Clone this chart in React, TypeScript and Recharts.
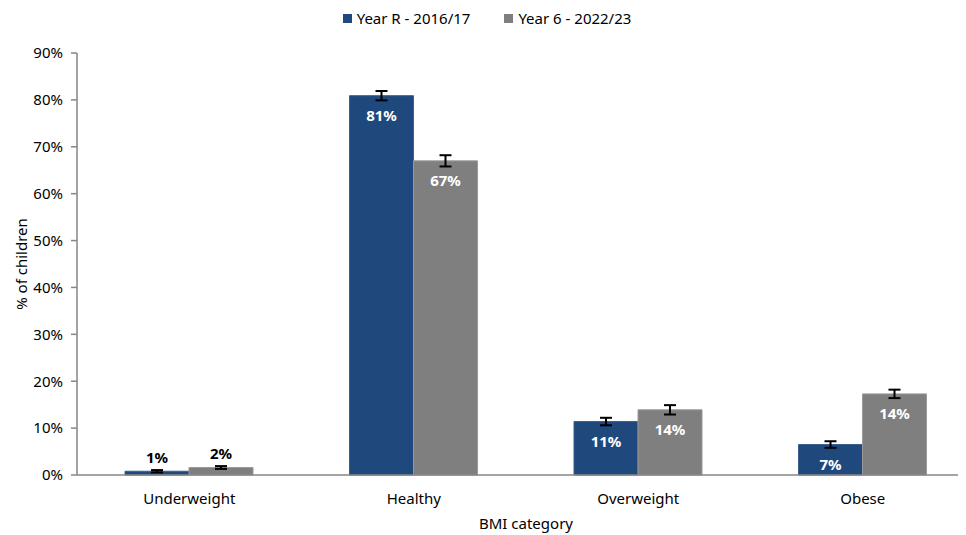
import { BarChart, Bar, XAxis, YAxis, ErrorBar, LabelList } from 'recharts';

const categories = ['Underweight', 'Healthy', 'Overweight', 'Obese'];
const yearR = [0.8, 80.9, 11.4, 6.5];
const yearRErr = [0.25, 1.0, 0.8, 0.7];
const yearRLabels = ['1%', '81%', '11%', '7%'];
const year6 = [1.6, 67.0, 13.9, 17.3];
const year6Err = [0.3, 1.2, 1.0, 0.9];
const year6Labels = ['2%', '67%', '14%', '14%'];
const yTicks = [0, 10, 20, 30, 40, 50, 60, 70, 80, 90];
const series = [
  { name: 'Year R - 2016/17', color: '#1F497D' },
  { name: 'Year 6 - 2022/23', color: '#7F7F7F' },
];

const data = categories.map((name, i) => ({
  name,
  idx: i + 0.5,
  r: yearR[i],
  rErr: yearRErr[i],
  s: year6[i],
  sErr: year6Err[i],
}));

const FONT = '"Noto Sans", sans-serif';

const makeLabel = (labels: string[]) => (p: any) => {
  const { x, y, width, index } = p;
  const small = index === 0;
  return (
    <text
      x={x + width / 2}
      y={small ? y - 8 : y + 25}
      textAnchor="middle"
      fontFamily={FONT}
      fontSize={15}
      fontWeight="bold"
      fill={small ? '#000' : '#fff'}
    >
      {labels[index]}
    </text>
  );
};

export default function App() {
  return (
    <div style={{ position: 'relative', width: 958, height: 527, overflow: 'hidden', background: '#fff' }}>
      <div style={{ position: 'absolute', top: 0, left: 0, width: 958, display: 'flex', justifyContent: 'center', gap: 34, fontFamily: FONT, fontSize: 15, color: '#000', marginLeft: 0, zIndex: 2 }}>
        {series.map((s) => (
          <span key={s.name} style={{ display: 'flex', alignItems: 'center' }}>
            <span style={{ width: 9, height: 9, background: s.color, marginRight: 5, display: 'inline-block' }} />
            {s.name}
          </span>
        ))}
      </div>
      <BarChart
        width={970}
        height={527}
        data={data}
        margin={{ top: 45, right: 3, bottom: 0, left: 0 }}
        barCategoryGap={48}
        barGap={0}
      >
        <XAxis
          xAxisId="a"
          type="number"
          dataKey="idx"
          domain={[0, 4]}
          ticks={[0, 1, 2, 3, 4]}
          tick={false}
          tickSize={6}
          height={1}
          axisLine={{ stroke: '#868686', strokeWidth: 1.5 }}
          tickLine={{ stroke: '#868686', strokeWidth: 1.5 }}
        />
        <XAxis
          xAxisId="z"
          dataKey="name"
          axisLine={false}
          tickLine={false}
          height={59}
          tickMargin={11}
          tick={{ fontFamily: FONT, fontSize: 15, fill: '#000' }}
          label={{ value: 'BMI category', position: 'insideBottom', offset: 6, fontFamily: FONT, fontSize: 15, fill: '#000' }}
        />
        <YAxis
          domain={[0, 90]}
          ticks={yTicks}
          width={69}
          tickFormatter={(v: number) => `${v}%`}
          tickSize={6}
          tickMargin={8}
          axisLine={{ stroke: '#868686', strokeWidth: 1.5 }}
          tickLine={{ stroke: '#868686', strokeWidth: 1.5 }}
          tick={{ fontFamily: FONT, fontSize: 15, fill: '#000' }}
          label={{ value: '% of children', angle: -90, position: 'insideLeft', offset: 0, dx: 14, fontFamily: FONT, fontSize: 15, fill: '#000', style: { textAnchor: 'middle' } }}
        />
        <Bar xAxisId="z" dataKey="r" fill={series[0].color} stroke="#3a5f8f" strokeWidth={1} isAnimationActive={false}>
          <ErrorBar dataKey="rErr" width={6} stroke="#000" strokeWidth={2} direction="y" />
          <LabelList dataKey="r" content={makeLabel(yearRLabels)} />
        </Bar>
        <Bar xAxisId="z" dataKey="s" fill={series[1].color} stroke="#9a9a9a" strokeWidth={1} isAnimationActive={false}>
          <ErrorBar dataKey="sErr" width={6} stroke="#000" strokeWidth={2} direction="y" />
          <LabelList dataKey="s" content={makeLabel(year6Labels)} />
        </Bar>
      </BarChart>
    </div>
  );
}
